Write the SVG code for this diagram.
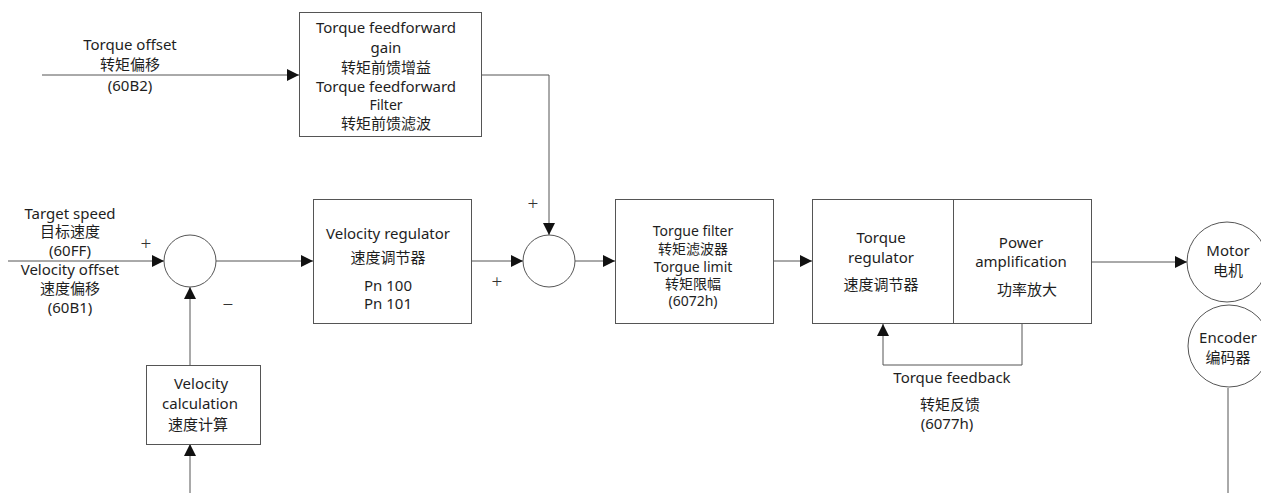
<svg xmlns="http://www.w3.org/2000/svg" width="1261" height="493" viewBox="0 0 1261 493">
<style>
  text { font-family: "Noto Sans", "Noto Sans CJK SC", sans-serif; font-size: 15px; fill: #1e1e1e; text-anchor: middle; dominant-baseline: central; }
  .tight { font-size: 14px; }
  .box { fill: #fff; stroke: #555; stroke-width: 1; }
  .wire { fill: none; stroke: #555; stroke-width: 1; }
  .sign { font-size: 19px; font-weight: 300; fill: #333; }
</style>
<defs>
  <marker id="arr" markerUnits="userSpaceOnUse" markerWidth="12" markerHeight="12" refX="12" refY="6" orient="auto">
    <path d="M0,0 L12,6 L0,12 z" fill="#111"/>
  </marker>
</defs>
<rect width="1261" height="493" fill="#fff"/>

<g id="connectors">
  <path class="wire" d="M42,75 H299" marker-end="url(#arr)"/>
  <path class="wire" d="M482,75 H549 V235" marker-end="url(#arr)"/>
  <path class="wire" d="M8,261 H164" marker-end="url(#arr)"/>
  <path class="wire" d="M216,261 H313" marker-end="url(#arr)"/>
  <path class="wire" d="M190,365 V287" marker-end="url(#arr)"/>
  <path class="wire" d="M190,493 V444" marker-end="url(#arr)"/>
  <path class="wire" d="M471,261 H523" marker-end="url(#arr)"/>
  <path class="wire" d="M575,261 H615" marker-end="url(#arr)"/>
  <path class="wire" d="M773,261 H812" marker-end="url(#arr)"/>
  <path class="wire" d="M1091,262 H1187" marker-end="url(#arr)"/>
  <path class="wire" d="M1022,324 V365 H883 V324" marker-end="url(#arr)"/>
  <path class="wire" d="M1228,388 V493"/>
</g>

<g id="torque-offset-label">
  <text x="130" y="44">Torque offset</text>
  <text x="130" y="64">转矩偏移</text>
  <text x="130" y="85">(60B2)</text>
</g>

<g id="feedforward">
  <rect class="box" x="299.5" y="12.5" width="182" height="124"/>
  <text x="386" y="27">Torque feedforward</text>
  <text x="386" y="47">gain</text>
  <text x="386" y="67">转矩前馈增益</text>
  <text x="386" y="86">Torque feedforward</text>
  <text class="tight" x="386" y="104">Filter</text>
  <text x="386" y="123">转矩前馈滤波</text>
</g>

<g id="input-labels">
  <text x="70" y="213">Target speed</text>
  <text x="70" y="231">目标速度</text>
  <text x="70" y="250">(60FF)</text>
  <text x="70" y="269">Velocity offset</text>
  <text x="70" y="288">速度偏移</text>
  <text x="70" y="307">(60B1)</text>
</g>

<g id="sum1">
  <circle class="box" cx="190" cy="261" r="26"/>
  <text class="sign" x="146" y="243">+</text>
  <text class="sign" x="228" y="304">−</text>
</g>

<g id="velocity-regulator">
  <rect class="box" x="313.5" y="199.5" width="158" height="124"/>
  <text x="388" y="233">Velocity regulator</text>
  <text x="388" y="257">速度调节器</text>
  <text x="388" y="285">Pn 100</text>
  <text x="388" y="303">Pn 101</text>
</g>

<g id="velocity-calculation">
  <rect class="box" x="146.5" y="365.5" width="114" height="79"/>
  <text x="201" y="383">Velocity</text>
  <text x="200" y="403">calculation</text>
  <text x="198" y="424">速度计算</text>
</g>

<g id="sum2">
  <circle class="box" cx="549" cy="261" r="26"/>
  <text class="sign" x="533" y="203">+</text>
  <text class="sign" x="497" y="281">+</text>
</g>

<g id="torque-filter">
  <rect class="box" x="615.5" y="199.5" width="158" height="124"/>
  <text class="tight" x="693" y="230">Torgue filter</text>
  <text class="tight" x="693" y="248">转矩滤波器</text>
  <text class="tight" x="693" y="266">Torgue limit</text>
  <text class="tight" x="693" y="283">转矩限幅</text>
  <text class="tight" x="693" y="300">(6072h)</text>
</g>

<g id="torque-regulator">
  <rect class="box" x="812.5" y="199.5" width="141" height="124"/>
  <text x="881" y="237">Torque</text>
  <text x="881" y="257">regulator</text>
  <text x="881" y="284">速度调节器</text>
</g>

<g id="power-amplification">
  <rect class="box" x="953.5" y="199.5" width="138" height="124"/>
  <text x="1021" y="242">Power</text>
  <text x="1021" y="261">amplification</text>
  <text x="1027" y="289">功率放大</text>
</g>

<g id="feedback-label">
  <text x="952" y="377">Torque feedback</text>
  <text x="950" y="404">转矩反馈</text>
  <text x="947" y="423">(6077h)</text>
</g>

<g id="motor">
  <circle class="box" cx="1227" cy="262" r="40"/>
  <text x="1228" y="250">Motor</text>
  <text x="1228" y="270">电机</text>
</g>

<g id="encoder">
  <circle class="box" cx="1229" cy="346" r="41"/>
  <text x="1228" y="337">Encoder</text>
  <text x="1228" y="357">编码器</text>
</g>
</svg>
